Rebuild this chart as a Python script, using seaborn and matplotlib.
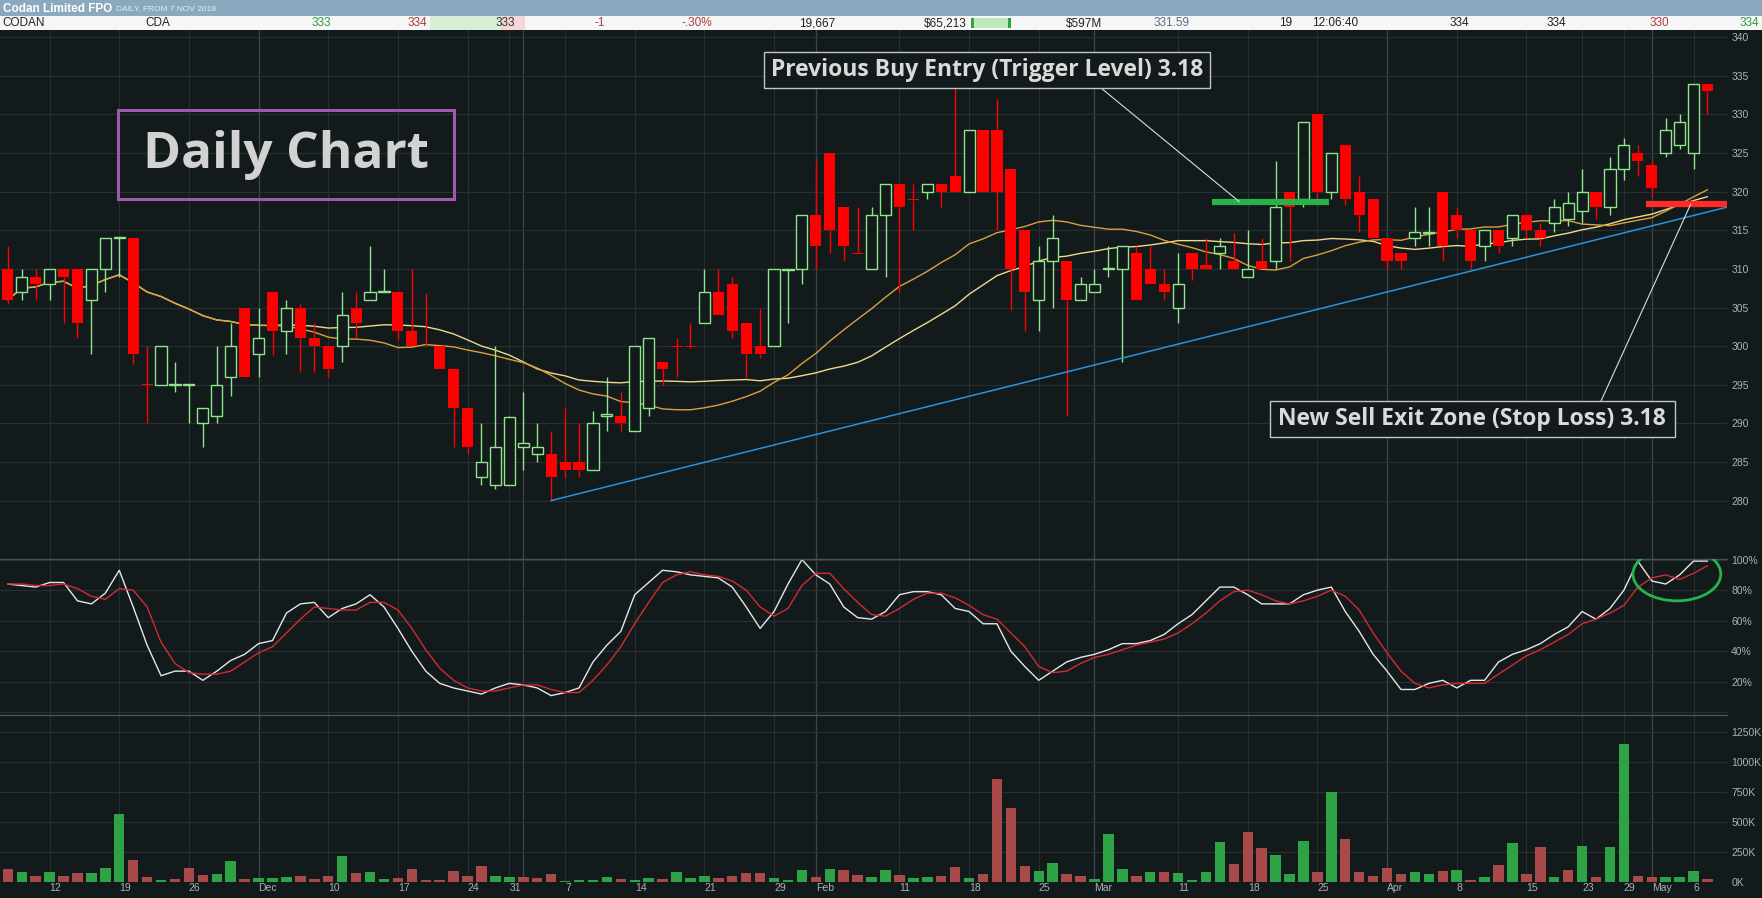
import numpy as np
import pandas as pd
import seaborn as sns
import matplotlib.pyplot as plt
from matplotlib.patches import Rectangle, Ellipse, ConnectionPatch

# Codan Limited (CDA) daily candles, 7 Nov 2018 - 7 May 2019
holidays = ['2018-12-25', '2018-12-26', '2019-01-01', '2019-01-28',
            '2019-04-19', '2019-04-22', '2019-04-25']

open_px = [310, 307, 309, 308, 310, 310, 306, 310, 314, 314,
           295.1, 295, 295, 295, 290, 291, 296, 305, 299, 307,
           302, 305, 301, 300, 300, 305, 306, 307, 307, 302,
           302, 300, 297, 292, 283, 282, 282, 287, 286, 286,
           285, 285, 284, 291, 291, 289, 292, 298, 300, 300,
           303, 307, 308, 303, 300, 300, 309.9, 310, 317, 325,
           318, 312, 310, 317, 321, 319, 320, 321, 322, 320,
           328, 328, 323, 315, 306, 311, 311, 306, 307, 310,
           310, 312, 310, 308, 305, 312, 310.5, 312, 311, 309,
           311, 311, 320, 319, 330, 320, 326, 320, 319, 314,
           312, 314, 314.6, 320, 317, 315, 313, 315, 314, 317,
           315, 316, 316.5, 317.5, 320, 318, 323, 325, 323.5, 325,
           326, 325, 334]
high_px = [313, 310, 310, 310, 310, 310, 310, 314, 314, 314,
           300, 300, 297.9, 295, 292, 300, 303, 305, 305, 307,
           306, 305.5, 303, 300, 307, 307, 313, 310, 307, 310,
           306.9, 300, 297, 292, 290, 300, 291, 294, 290, 289,
           292, 290, 291.6, 296, 294, 300, 301, 298, 301, 303,
           310, 310, 309, 303, 305, 310, 310, 317, 324, 325,
           318, 318, 318, 321, 321, 321, 321, 321, 335, 328,
           328, 332, 323, 315, 313, 317, 311, 309, 310, 313,
           313, 313, 313, 310, 312, 312, 314, 314, 314.6, 315,
           314, 324, 320, 329, 330, 325, 326, 322, 319, 314,
           312, 318, 318, 320, 318, 315, 315, 315, 317, 317,
           316, 319, 320, 323, 320, 324.5, 327, 326, 324, 329.5,
           330, 334, 334]
low_px = [305.5, 306, 306, 306, 303, 301, 299, 307, 309, 297.7,
          290, 295, 294, 290, 287, 290, 293.5, 296, 296, 298.8,
          299, 296.7, 296.7, 296, 298, 301, 306, 307, 300.8, 300,
          300, 297, 287, 286, 282, 281.5, 282, 284, 285, 280,
          283, 283, 284, 289, 289, 289, 291, 295, 296, 299.8,
          303, 304, 301, 296, 298.5, 300, 303, 308, 310, 312,
          311, 311.9, 310, 309, 307, 315, 319, 318, 320, 320,
          320, 315, 304.7, 302, 302, 305, 291, 306, 307, 309,
          298, 306, 308, 306, 303, 308.6, 310, 310, 310, 309,
          310, 310, 311, 318, 319, 319, 318.3, 314.8, 314, 310,
          310, 313, 313, 311, 314, 310, 311, 312, 313, 314,
          313, 314.8, 315.5, 316, 316.5, 317, 321.5, 322, 319.5, 324.5,
          325.5, 323, 330]
close_px = [306, 309, 308, 310, 309, 303, 310, 314, 314.1, 299,
            295, 300, 295.1, 295.1, 292, 295, 300, 296, 301, 302,
            305, 301, 300, 297, 304, 303, 307, 307.1, 302, 300,
            301.9, 297, 292, 287, 285, 287, 290.8, 287.5, 287, 283,
            284, 284, 290, 291.2, 290, 300, 301, 297, 299.9, 299.9,
            307, 304, 302, 299, 299, 310, 310, 317, 313, 315,
            313, 311.9, 317, 321, 318, 318.9, 321, 320, 320, 328,
            320, 320, 310, 307, 311, 314, 306, 308, 308, 310.1,
            313, 306, 308, 307, 308, 310, 310, 313, 310, 310,
            310, 318, 318, 329, 320, 325, 319, 317, 314, 311,
            311, 314.8, 314.8, 313, 315, 311, 315, 313, 317, 315,
            314, 318, 318.5, 320, 318, 323, 326, 324, 320.5, 328,
            329, 334, 333]

# volume in thousands, g = up day, r = down day
volume_k = [110, 82, 52, 82, 52, 77, 77, 118, 563, 184,
            44, 19, 27, 118, 60, 69, 176, 27, 36, 36,
            44, 52, 27, 52, 217, 77, 85, 27, 36, 110,
            19, 19, 93, 52, 135, 52, 44, 44, 36, 69,
            11, 19, 19, 44, 27, 19, 36, 27, 85, 36,
            52, 36, 52, 77, 77, 36, 19, 102, 44, 110,
            102, 60, 44, 102, 60, 36, 44, 52, 126, 36,
            69, 853, 613, 135, 93, 160, 69, 52, 27, 399,
            110, 52, 85, 85, 77, 19, 85, 333, 151, 415,
            283, 225, 69, 341, 85, 751, 357, 85, 52, 118,
            69, 85, 69, 93, 102, 19, 44, 143, 324, 69,
            291, 44, 102, 300, 44, 291, 1150, 52, 44, 44,
            44, 93, 27]
volume_dir = list("rgrgrrgggr" "rgrrrggrgg" "grrrgrggrr" "rrrrrggrrr"
                  "ggggrggrgg" "grrrrgggrg" "rrggrggrrg" "rrrrggrrgg"
                  "grgrggggrr" "rgggrgrrrr" "rggrgrgrgr" "rgrgrggrrg"
                  "ggr")

# stochastic oscillator (%K white, %D red)
stoch_k = [84, 83, 82, 85, 85, 73, 71, 78, 93, 69,
           44, 24, 27, 27, 21, 27, 34, 38, 45, 47,
           65, 71, 72, 62, 68, 71, 77, 69, 55, 40,
           27, 19, 16, 14, 12, 16, 19, 18, 16, 11,
           13, 16, 33, 44, 53, 77, 85, 93, 92, 90,
           89, 88, 82, 69, 55, 66, 84, 100, 90, 84,
           69, 62, 61, 66, 77, 79, 79, 77, 68, 66,
           58, 58, 40, 30, 21, 27, 33, 36, 38, 41,
           45, 45, 47, 51, 58, 64, 73, 82, 82, 77,
           71, 71, 71, 77, 80, 82, 66, 53, 38, 27,
           15, 15, 19, 21, 16, 21, 21, 33, 38, 41,
           45, 51, 56, 66, 61, 68, 80, 99, 86, 84,
           90, 99, 99]
stoch_d = [84, 84, 83, 83, 84, 81, 76, 74, 81, 80,
           69, 46, 32, 26, 25, 25, 27, 33, 39, 43,
           52, 61, 69, 68, 67, 67, 72, 72, 67, 55,
           41, 29, 21, 16, 14, 14, 16, 18, 18, 15,
           13, 13, 21, 31, 43, 58, 72, 85, 90, 92,
           90, 89, 86, 80, 69, 63, 68, 83, 91, 91,
           81, 72, 64, 63, 68, 74, 78, 78, 75, 70,
           64, 61, 52, 43, 30, 26, 27, 32, 36, 38,
           41, 44, 46, 48, 52, 58, 65, 73, 79, 80,
           77, 73, 71, 73, 76, 80, 76, 67, 52, 39,
           27, 19, 16, 18, 19, 19, 19, 25, 31, 37,
           41, 46, 51, 58, 61, 65, 70, 82, 88, 90,
           87, 91, 96]

tick_dates = ['2018-11-12', '2018-11-19', '2018-11-26', '2018-12-03', '2018-12-10',
              '2018-12-17', '2018-12-24', '2018-12-31', '2019-01-07', '2019-01-14',
              '2019-01-21', '2019-01-29', '2019-02-01', '2019-02-11', '2019-02-18',
              '2019-02-25', '2019-03-01', '2019-03-11', '2019-03-18', '2019-03-25',
              '2019-04-01', '2019-04-08', '2019-04-15', '2019-04-23', '2019-04-29',
              '2019-05-01', '2019-05-06']
tick_labels = ['12', '19', '26', 'Dec', '10', '17', '24', '31', '7', '14', '21', '29',
               'Feb', '11', '18', '25', 'Mar', '11', '18', '25', 'Apr', '8', '15',
               '23', '29', 'May', '6']
month_starts = ['2018-12-03', '2019-01-02', '2019-02-01', '2019-03-01',
                '2019-04-01', '2019-05-01']

# drawn trade levels (bar index, price)
trend_x, trend_y = [39, 123.4], [280, 318]
buy_x, buy_level = [86.4, 94.8], 318.7
sell_x, sell_level = [117.6, 123.4], 318.4

BG = '#121a1c'
GREEN = '#8fe68a'
RED = '#ff0000'
TXT = '#aab2b2'
W, H = 1762, 898


def fx(px):
    return px / W


def fy(py):
    return 1 - py / H


def main():
    dates = pd.bdate_range('2018-11-07', '2019-05-07')
    dates = dates[~dates.isin(pd.to_datetime(holidays))]
    pos = {d: i for i, d in enumerate(dates)}
    n = len(dates)
    x = np.arange(n)

    o = np.array(open_px)
    c = np.array(close_px)
    hi = np.array(high_px)
    lo = np.array(low_px)

    df = pd.DataFrame({'x': x, 'close': c, 'k': stoch_k, 'd': stoch_d,
                       'vol': volume_k, 'dir': volume_dir})
    df['ma20'] = df['close'].rolling(20, min_periods=1).mean()
    df['ma30'] = df['close'].rolling(30, min_periods=1).mean()

    sns.set_theme(style='dark', rc={'axes.facecolor': BG, 'figure.facecolor': BG,
                                    'axes.edgecolor': BG})
    plt.rcParams['font.family'] = ['Liberation Sans Narrow', 'Liberation Sans',
                                   'DejaVu Sans']

    fig = plt.figure(figsize=(W / 100, H / 100), dpi=100)
    right = fx(1727)
    ax_p = fig.add_axes([0, fy(558.5), right, fy(30.3) - fy(558.5)])
    ax_o = fig.add_axes([0, fy(714.7), right, fy(558.5) - fy(714.7)], sharex=ax_p)
    ax_v = fig.add_axes([0, fy(882), right, fy(714.7) - fy(882)], sharex=ax_p)

    tick_pos = [pos[pd.Timestamp(d)] for d in tick_dates]
    month_pos = [pos[pd.Timestamp(d)] for d in month_starts]

    # grid
    for ax in (ax_p, ax_o, ax_v):
        for t in tick_pos:
            ax.axvline(t, color='#262f30', lw=0.8, zorder=0)
        for t in month_pos:
            ax.axvline(t, color='#3c4647', lw=0.9, zorder=0)
    for v in range(280, 341, 5):
        ax_p.axhline(v, color='#273031', lw=0.8, zorder=0)
    for v in range(0, 101, 20):
        ax_o.axhline(v, color='#273031', lw=0.8, zorder=0)
    for v in range(0, 1251, 250):
        ax_v.axhline(v, color='#273031', lw=0.8, zorder=0)

    # candles
    up = c >= o
    body_lo = np.minimum(o, c)
    body_hi = np.maximum(o, c)
    height = np.maximum(body_hi - body_lo, 0.08)
    cols = np.where(up, GREEN, RED)
    ax_p.vlines(x, lo, body_lo, colors=cols, lw=1, zorder=3)
    ax_p.vlines(x, body_hi, hi, colors=cols, lw=1, zorder=3)
    ax_p.bar(x[~up], height[~up], bottom=body_lo[~up], width=0.8,
             color=RED, lw=0, zorder=4)
    ax_p.bar(x[up], height[up], bottom=body_lo[up], width=0.8,
             facecolor=BG, edgecolor=GREEN, lw=1, zorder=4)

    # moving averages
    sns.lineplot(data=df, x='x', y='ma30', ax=ax_p, color='#efd98a', lw=1,
                 estimator=None, sort=False, zorder=2)
    sns.lineplot(data=df, x='x', y='ma20', ax=ax_p, color='#d9a03f', lw=1,
                 estimator=None, sort=False, zorder=2)

    # trade levels
    ax_p.plot(trend_x, trend_y, color='#2b93d8', lw=1.1, zorder=5)
    ax_p.plot(buy_x, [buy_level] * 2, color='#27b24a', lw=4.5,
              solid_capstyle='butt', zorder=6)
    ax_p.plot(sell_x, [sell_level] * 2, color='#ff2a2a', lw=4.5,
              solid_capstyle='butt', zorder=6)

    ax_p.set_ylim(272.5, 340.9)
    ax_p.set_yticks(range(280, 341, 5))

    # oscillator
    sns.lineplot(data=df, x='x', y='k', ax=ax_o, color='#e6e6e6', lw=1,
                 estimator=None, sort=False)
    sns.lineplot(data=df, x='x', y='d', ax=ax_o, color='#d42a2e', lw=1,
                 estimator=None, sort=False)
    ax_o.set_ylim(-1.5, 100.7)
    ax_o.set_yticks([20, 40, 60, 80, 100])
    ax_o.set_yticklabels(['20%', '40%', '60%', '80%', '100%'])
    ax_o.add_patch(Ellipse((119.8, 90.5), 6.3, 35, fill=False,
                           edgecolor='#27b24a', lw=2, zorder=6))

    # volume
    sns.barplot(data=df, x='x', y='vol', hue='dir', ax=ax_v, native_scale=True,
                palette={'g': '#2ea346', 'r': '#a84a4a'}, dodge=False,
                width=0.75, saturation=1, legend=False, linewidth=0)
    ax_v.set_ylim(0, 1390)
    ax_v.set_yticks(range(0, 1251, 250))
    ax_v.set_yticklabels([f'{v}K' for v in range(0, 1251, 250)])

    for ax in (ax_p, ax_o, ax_v):
        ax.set_xlim(-0.56, 123.4)
        ax.yaxis.tick_right()
        ax.tick_params(axis='y', length=0, pad=3, labelsize=7.5, labelcolor=TXT)
        ax.set_xlabel('')
        ax.set_ylabel('')
        for s in ax.spines.values():
            s.set_visible(False)
    for ax in (ax_o, ax_v):
        ax.spines['top'].set_visible(True)
        ax.spines['top'].set_color('#4a5354')
        ax.spines['top'].set_linewidth(1)

    ax_v.set_xticks(tick_pos)
    ax_v.set_xticklabels(tick_labels)
    ax_v.tick_params(axis='x', length=0, pad=1, labelsize=7.5, labelcolor=TXT)
    for lbl in ax_v.get_xticklabels():
        lbl.set_ha('left')
    ax_p.tick_params(axis='x', labelbottom=False, length=0)
    ax_o.tick_params(axis='x', labelbottom=False, length=0)

    # header bar and quote row
    fig.add_artist(Rectangle((0, fy(16)), 1, 16 / H, transform=fig.transFigure,
                             facecolor='#8aa9be', edgecolor='none'))
    fig.add_artist(Rectangle((0, fy(30.3)), 1, 14.3 / H, transform=fig.transFigure,
                             facecolor='#f6f6f6', edgecolor='none'))
    fig.add_artist(Rectangle((fx(430), fy(30.3)), fx(95), 14.3 / H,
                             transform=fig.transFigure, facecolor='#d6f0d6',
                             edgecolor='none'))
    fig.add_artist(Rectangle((fx(500), fy(30.3)), fx(25), 14.3 / H,
                             transform=fig.transFigure, facecolor='#f6d6d6',
                             edgecolor='none'))
    fig.add_artist(Rectangle((fx(971), fy(28)), fx(40), 10 / H,
                             transform=fig.transFigure, facecolor='#bfe8bf',
                             edgecolor='none'))
    for bx in (971, 1008):
        fig.add_artist(Rectangle((fx(bx), fy(28)), fx(3), 10 / H,
                                 transform=fig.transFigure, facecolor='#2ea346',
                                 edgecolor='none'))
    fig.text(fx(3), fy(8.5), 'Codan Limited FPO', color='white', weight='bold',
             fontsize=8.5, va='center', ha='left')
    fig.text(fx(116), fy(8.5), 'DAILY, FROM 7 NOV 2018', color='#e6eef4',
             fontsize=6, va='center', ha='left')
    row = [(2, 'CODAN', '#222222', 'left'), (145, 'CDA', '#222222', 'left'),
           (331, '333', '#2e9e3e', 'right'), (427, '334', '#b03a3a', 'right'),
           (515, '333', '#333333', 'right'), (605, '-1', '#b03a3a', 'right'),
           (712, '-.30%', '#b03a3a', 'right'), (835, '19,667', '#222222', 'right'),
           (967, '$65,213', '#222222', 'right'), (1102, '$597M', '#222222', 'right'),
           (1190, '331.59', '#5a6a8a', 'right'), (1292, '19', '#222222', 'right'),
           (1358, '12:06:40', '#222222', 'right'), (1469, '334', '#222222', 'right'),
           (1566, '334', '#222222', 'right'), (1669, '330', '#b03a3a', 'right'),
           (1759, '334', '#2e9e3e', 'right')]
    for px, s, col, ha in row:
        fig.text(fx(px), fy(23.5), s, color=col, fontsize=8.5, va='center', ha=ha)

    # annotations
    sans = ['Open Sans', 'DejaVu Sans']
    fig.add_artist(Rectangle((fx(118), fy(199)), fx(336), 89 / H,
                             transform=fig.transFigure, fill=False,
                             edgecolor='#a058ae', lw=2.2))
    fig.text(fx(286), fy(155), 'Daily Chart', color='#d2d2d2', weight='bold',
             fontsize=37, family=sans, ha='center', va='center')

    fig.add_artist(Rectangle((fx(764), fy(88)), fx(446), 36 / H,
                             transform=fig.transFigure, facecolor=BG,
                             edgecolor='#c4c4c4', lw=1, zorder=7))
    fig.text(fx(987), fy(70), 'Previous Buy Entry (Trigger Level) 3.18',
             color='#dadada', weight='bold', fontsize=16.5, family=sans,
             ha='center', va='center', zorder=8)
    fig.add_artist(Rectangle((fx(1270), fy(437)), fx(405), 36 / H,
                             transform=fig.transFigure, facecolor=BG,
                             edgecolor='#c4c4c4', lw=1, zorder=7))
    fig.text(fx(1472), fy(419), 'New Sell Exit Zone (Stop Loss) 3.18',
             color='#dadada', weight='bold', fontsize=16.5, family=sans,
             ha='center', va='center', zorder=8)

    fig.add_artist(ConnectionPatch(xyA=(fx(1101), fy(88)), coordsA=fig.transFigure,
                                   xyB=(88.4, buy_level), coordsB=ax_p.transData,
                                   color='#dcdcdc', lw=0.8))
    fig.add_artist(ConnectionPatch(xyA=(fx(1601), fy(401)), coordsA=fig.transFigure,
                                   xyB=(120.8, sell_level), coordsB=ax_p.transData,
                                   color='#dcdcdc', lw=0.8))

    fig.savefig('out.png', dpi=100, facecolor=BG)


if __name__ == '__main__':
    main()
